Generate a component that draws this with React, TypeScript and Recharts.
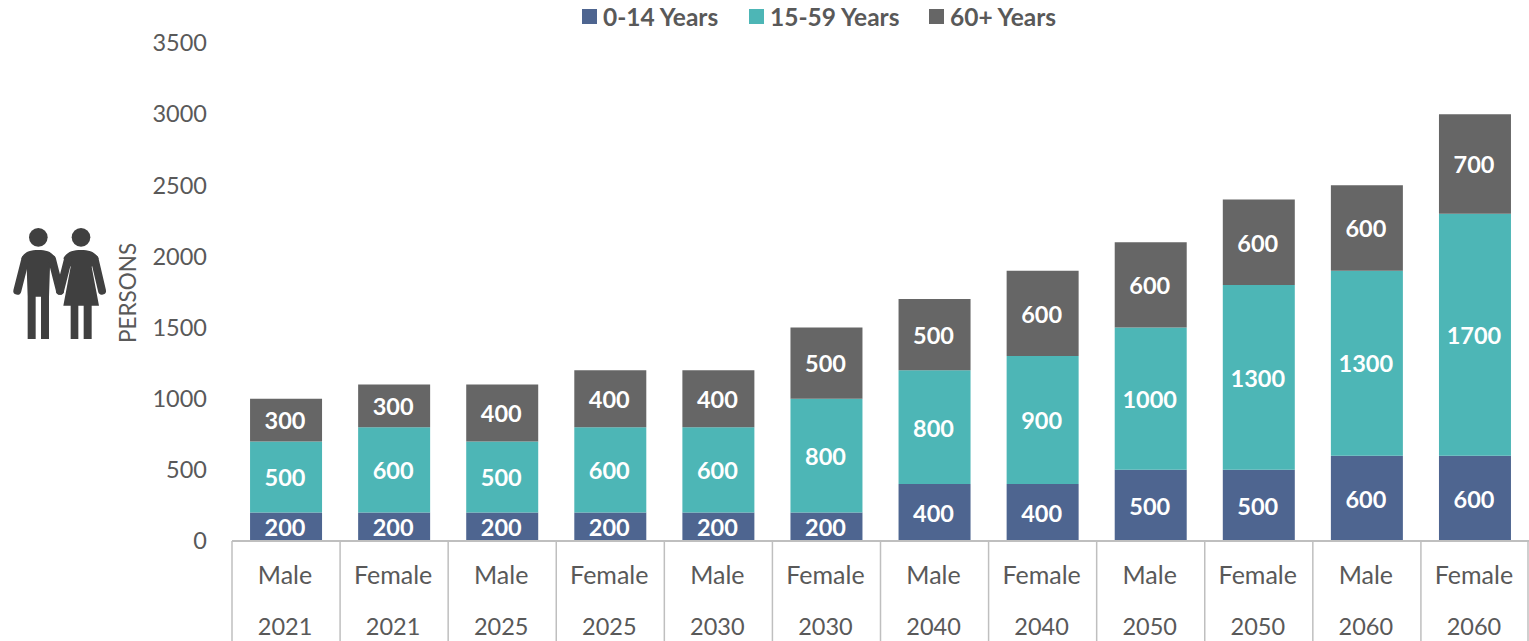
import { Bar, BarChart, LabelList, Legend, XAxis, YAxis } from "recharts"

const genders = ["Male", "Female", "Male", "Female", "Male", "Female", "Male", "Female", "Male", "Female", "Male", "Female"]
const years = ["2021", "2021", "2025", "2025", "2030", "2030", "2040", "2040", "2050", "2050", "2060", "2060"]
const young = [200, 200, 200, 200, 200, 200, 400, 400, 500, 500, 600, 600]
const working = [500, 600, 500, 600, 600, 800, 800, 900, 1000, 1300, 1300, 1700]
const old = [300, 300, 400, 400, 400, 500, 500, 600, 600, 600, 600, 700]
const yTicks = [0, 500, 1000, 1500, 2000, 2500, 3000, 3500]

const seriesNames = ["0-14 Years", "15-59 Years", "60+ Years"]
const seriesColors = ["#4e6590", "#4db6b6", "#666666"]

const data = genders.map((g, i) => ({
  name: g + " " + years[i],
  young: young[i],
  working: working[i],
  old: old[i],
}))

const FONT = "Lato, sans-serif"
const TEXT = "#595959"
const AXIS = "#bfbfbf"
const CAT_WIDTH = 1297 / 12

function CategoryTick({ x, y, index }: any) {
  const half = CAT_WIDTH / 2
  return (
    <g>
      <line x1={x - half} x2={x - half} y1={y} y2={y + 100} stroke={AXIS} strokeWidth={1.5} />
      {index === genders.length - 1 && (
        <line x1={x + half - 1} x2={x + half - 1} y1={y} y2={y + 100} stroke={AXIS} strokeWidth={1.5} />
      )}
      <text x={x - 1} y={y + 43} textAnchor="middle" fontSize={25} fontFamily={FONT} fill={TEXT}>
        {genders[index]}
      </text>
      <text x={x - 1} y={y + 94} textAnchor="middle" fontSize={23.5} fontFamily={FONT} fill={TEXT}>
        {years[index]}
      </text>
    </g>
  )
}

function TopLegend() {
  const lefts = [582, 749, 929]
  return (
    <div style={{ position: "relative", height: 34, width: 1529 }}>
      {seriesNames.map((name, i) => (
        <div key={name} style={{ position: "absolute", left: lefts[i], top: 1, display: "flex", alignItems: "center", height: 30 }}>
          <span style={{ width: 15, height: 15, background: seriesColors[i], marginRight: 6, display: "inline-block" }} />
          <span style={{ fontFamily: FONT, fontWeight: 700, fontSize: 24.5, color: TEXT, whiteSpace: "nowrap" }}>{name}</span>
        </div>
      ))}
    </div>
  )
}

function CoupleIcon() {
  return (
    <svg
      width={240}
      height={160}
      viewBox="0 0 720 480"
      style={{ position: "absolute", left: 0, top: 200 }}
    >
      <g fill="#404040" stroke="none">
        <circle cx={115} cy={112} r={28} />
        <circle cx={243} cy={112} r={28} />
        <path d="M115 150 C140 150 158 156 166 175 L150 200 L147 290 L147 417 L123 417 L123 290 L107 290 L107 417 L83 417 L83 290 L80 200 L64 175 C72 156 90 150 115 150 Z" />
        <path d="M243 150 C268 150 286 156 296 175 L275 200 L297 317 L275 317 L275 417 L251 417 L251 317 L235 317 L235 417 L212 417 L212 317 L190 317 L212 200 L190 175 C200 156 218 150 243 150 Z" />
      </g>
      <g stroke="#404040" strokeWidth={24} strokeLinecap="round" fill="none">
        <line x1={76} y1={178} x2={52} y2={272} />
        <line x1={156} y1={178} x2={180} y2={272} />
        <line x1={204} y1={178} x2={180} y2={272} />
        <line x1={284} y1={178} x2={306} y2={272} />
      </g>
    </svg>
  )
}

export default function App() {
  return (
    <div style={{ position: "absolute", left: 0, top: 0, width: 1529, height: 641, overflow: "hidden", background: "#fff" }}>
      <BarChart
        width={1529}
        height={641}
        data={data}
        margin={{ top: 9, right: 0, bottom: 0, left: 112 }}
        barCategoryGap="16.7%"
      >
        <XAxis
          dataKey="name"
          height={100}
          interval={0}
          tickLine={false}
          tickSize={0}
          tickMargin={0}
          tick={<CategoryTick />}
          axisLine={{ stroke: AXIS, strokeWidth: 2 }}
        />
        <YAxis
          width={120}
          domain={[0, 3500]}
          ticks={yTicks}
          axisLine={false}
          tickLine={false}
          tickSize={0}
          tickMargin={25}
          tick={{ fontSize: 23.5, fontFamily: FONT, fill: TEXT }}
          label={{
            value: "PERSONS",
            angle: -90,
            position: "center",
            dx: -44,
            dy: 1,
            fontSize: 22.5,
            fontFamily: FONT,
            fill: TEXT,
          }}
        />
        <Legend verticalAlign="top" content={<TopLegend />} wrapperStyle={{ top: 0, left: 0, width: 1529 }} />
        <Bar dataKey="young" name={seriesNames[0]} stackId="a" fill={seriesColors[0]} isAnimationActive={false}>
          <LabelList dataKey="young" position="center" fill="#fff" fontSize={23.5} fontWeight={700} fontFamily={FONT} dx={-1} dy={1} />
        </Bar>
        <Bar dataKey="working" name={seriesNames[1]} stackId="a" fill={seriesColors[1]} isAnimationActive={false}>
          <LabelList dataKey="working" position="center" fill="#fff" fontSize={23.5} fontWeight={700} fontFamily={FONT} dx={-1} dy={1} />
        </Bar>
        <Bar dataKey="old" name={seriesNames[2]} stackId="a" fill={seriesColors[2]} isAnimationActive={false}>
          <LabelList dataKey="old" position="center" fill="#fff" fontSize={23.5} fontWeight={700} fontFamily={FONT} dx={-1} dy={1} />
        </Bar>
      </BarChart>
      <CoupleIcon />
    </div>
  )
}
